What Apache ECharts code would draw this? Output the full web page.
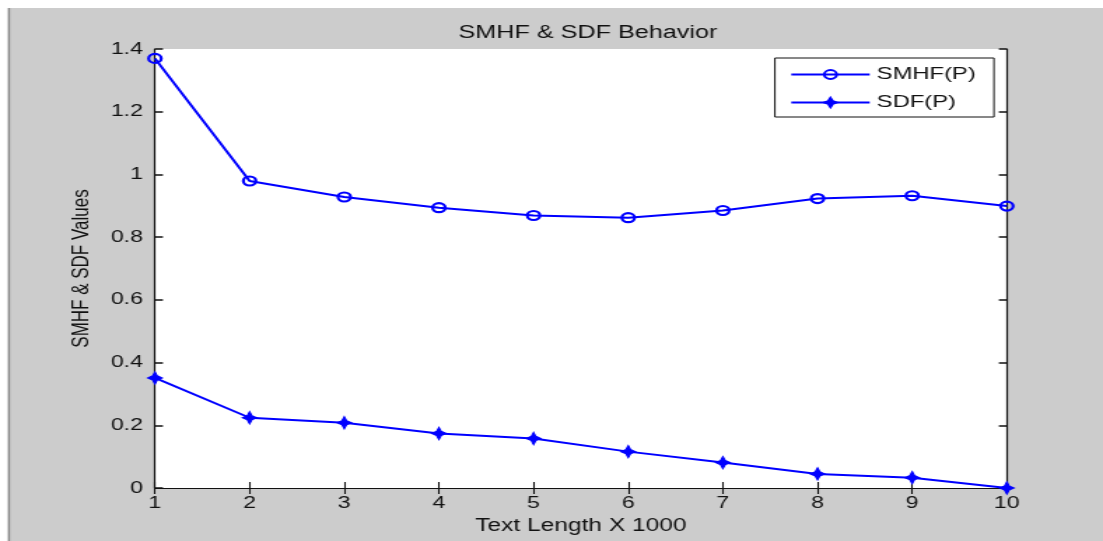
<!DOCTYPE html>
<html>
<head>
<meta charset="utf-8">
<script src="https://cdn.jsdelivr.net/npm/echarts@6/dist/echarts.min.js"></script>
<style>
  html, body { margin: 0; padding: 0; background: #ffffff; overflow: hidden; }
  /* the reference figure is stretched sideways, so draw narrow and widen it */
  #chart { width: 788px; height: 541px; transform: scaleX(1.39975); transform-origin: 0 0; }
</style>
</head>
<body>
<div id="chart"></div>
<script>
// values
const textLength = [1, 2, 3, 4, 5, 6, 7, 8, 9, 10];
const smhfValues = [1.370, 0.979, 0.928, 0.894, 0.869, 0.862, 0.885, 0.923, 0.932, 0.899];
const sdfValues = [0.351, 0.224, 0.208, 0.174, 0.158, 0.116, 0.081, 0.045, 0.033, 0.0];

const font = 'Liberation Sans, Arial, sans-serif';
const ink = '#111111';
const blue = '#0000ff';

const chart = echarts.init(document.getElementById('chart'));

const pairs = (ys) => textLength.map((x, i) => [x, ys[i]]);

chart.setOption({
  animation: false,
  backgroundColor: '#ffffff',
  textStyle: { fontFamily: font },
  graphic: [
    // grey figure background like matlab
    { type: 'rect', z: -10, shape: { x: 5.7, y: 8, width: 790, height: 533 }, style: { fill: '#cccccc' } },
    { type: 'rect', z: -9, shape: { x: 5.7, y: 8, width: 1.5, height: 533 }, style: { fill: '#8c8c8c' } },
  ],
  title: {
    text: 'SMHF & SDF Behavior',
    left: 415,
    textAlign: 'center',
    top: 19,
    textStyle: { fontSize: 18, fontWeight: 'normal', color: ink, fontFamily: font },
  },
  grid: {
    left: 110.7,
    right: 68.7,
    top: 49,
    bottom: 53,
    show: true,
    backgroundColor: '#ffffff',
    borderWidth: 0,
  },
  legend: {
    left: 553.6,
    top: 58,
    orient: 'vertical',
    backgroundColor: '#ffffff',
    borderColor: ink,
    borderWidth: 1,
    borderRadius: 0,
    padding: [8, 13, 6, 10.7],
    itemWidth: 56,
    itemHeight: 11,
    itemGap: 11,
    textStyle: { fontSize: 17, color: ink, fontFamily: font },
    data: ['SMHF(P)', 'SDF(P)'],
  },
  xAxis: [
    {
      type: 'value',
      min: 1,
      max: 10,
      interval: 1,
      name: 'Text Length X 1000',
      nameLocation: 'middle',
      nameGap: 26,
      nameTextStyle: { fontSize: 17.5, color: ink, fontFamily: font },
      axisLine: { lineStyle: { color: ink, width: 1.2 } },
      axisTick: { inside: true, length: 6, lineStyle: { color: ink, width: 1.1 } },
      axisLabel: { fontSize: 16.5, color: ink, margin: 7 },
      splitLine: { show: false },
    },
    {
      type: 'value',
      position: 'top',
      min: 1,
      max: 10,
      interval: 1,
      axisLine: { lineStyle: { color: ink, width: 1.2 } },
      axisTick: { inside: true, length: 6, lineStyle: { color: ink, width: 1.1 } },
      axisLabel: { show: false },
      splitLine: { show: false },
    },
  ],
  yAxis: [
    {
      type: 'value',
      min: 0,
      max: 1.4,
      interval: 0.2,
      name: 'SMHF & SDF Values',
      nameLocation: 'middle',
      nameGap: 44,
      nameTextStyle: { fontSize: 17, color: ink, fontFamily: font },
      axisLine: { lineStyle: { color: ink, width: 1.2 } },
      axisTick: { inside: true, length: 5.7, lineStyle: { color: ink, width: 1.5 } },
      axisLabel: { fontSize: 16.5, color: ink, margin: 8.6 },
      splitLine: { show: false },
    },
    {
      type: 'value',
      position: 'right',
      min: 0,
      max: 1.4,
      interval: 0.2,
      axisLine: { lineStyle: { color: ink, width: 1.2 } },
      axisTick: { inside: true, length: 5.7, lineStyle: { color: ink, width: 1.5 } },
      axisLabel: { show: false },
      splitLine: { show: false },
    },
  ],
  series: [
    {
      name: 'SMHF(P)',
      type: 'line',
      data: pairs(smhfValues),
      symbol: 'circle',
      symbolSize: [9, 9],
      showAllSymbol: true,
      clip: false,
      lineStyle: { color: blue, width: 2 },
      itemStyle: { color: 'rgba(255,255,255,0)', borderColor: blue, borderWidth: 2.2 },
    },
    {
      name: 'SDF(P)',
      type: 'line',
      data: pairs(sdfValues),
      symbol: 'path://M0,-6L2,-2L6,0L2,2L0,6L-2,2L-6,0L-2,-2Z',
      symbolSize: [10, 12],
      showAllSymbol: true,
      clip: false,
      lineStyle: { color: blue, width: 2 },
      itemStyle: { color: blue, borderColor: blue, borderWidth: 1.2 },
    },
  ],
});
</script>
</body>
</html>
